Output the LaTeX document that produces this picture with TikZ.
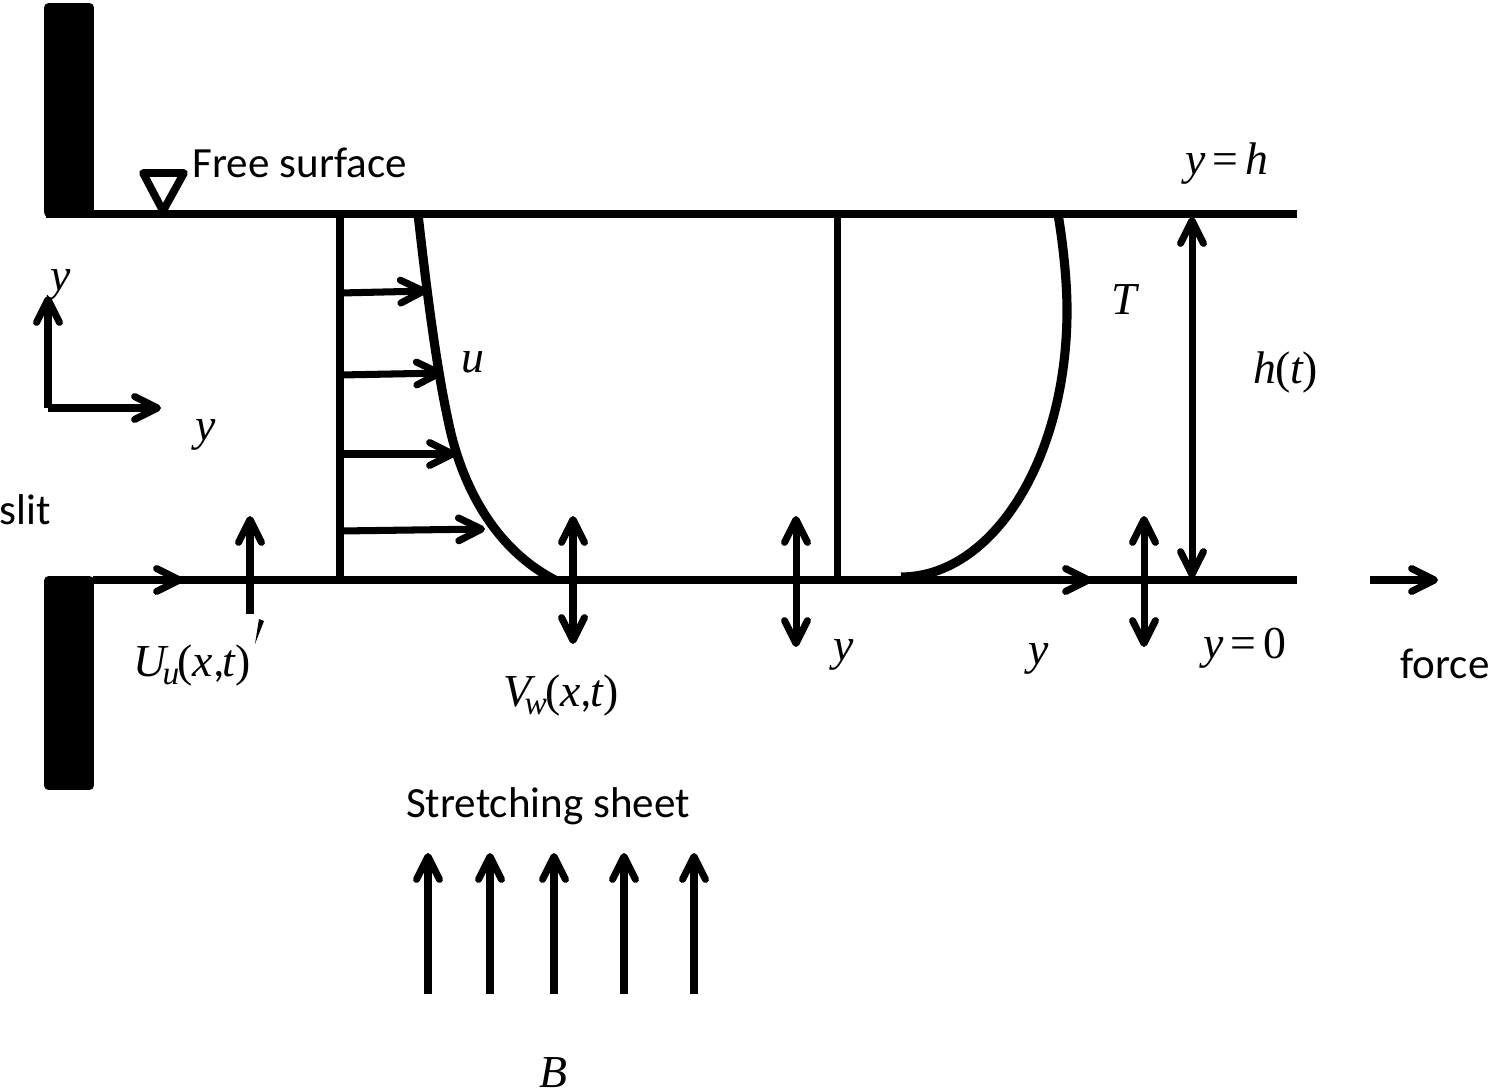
\documentclass[tikz,border=0pt]{standalone}
\usepackage{fontspec}
\setmainfont{Carlito}
\newfontfamily\mfont{Liberation Serif}
\newcommand{\mi}[1]{{\mfont\itshape #1}}
\newcommand{\mr}[1]{{\mfont #1}}
\newcommand{\sbs}[1]{\raisebox{-2.5pt}{\fontsize{9.5}{10}\selectfont\mi{#1}}}
\usetikzlibrary{arrows.meta}

\begin{document}
\begin{tikzpicture} [x=0.01cm, y=-0.01cm]
\tikzstyle{every node}=[inner sep=0pt, font=\fontsize{12.25}{15}\selectfont];
\tikzstyle{mathlbl}=[font=\fontsize{13}{15}\selectfont];
\tikzstyle{wall}=[draw, fill=black, line width=0.5pt, rounded corners=1pt, minimum width=48*0.01cm, minimum height=212*0.01cm];
\tikzstyle{heavy}=[line width=2pt];
\tikzstyle{surf}=[line width=2.3pt];
\tikzstyle{prof}=[line width=2.6pt];
\tikzstyle{vec}=[heavy, -{Straight Barb[length=6.5pt, width=6.5pt, round]}];
\tikzstyle{dvec}=[heavy, {Straight Barb[length=6.5pt, width=6.5pt, round]}-{Straight Barb[length=6.5pt, width=6.5pt, round]}];
\useasboundingbox (0,0) rectangle (1498,1091);

\node [wall] (wt) at (69,110) {};
\node [wall] (wb) at (69,683) {};

% free surface and sheet
\coordinate (st) at (46,214);
\coordinate (se) at (1297,214);
\coordinate (bs) at (93,580);
\coordinate (be) at (1297,580);
\draw [surf] (st) -- (se);
\draw [surf] (bs) -- (be);
\coordinate (t1) at (143,173);
\coordinate (t2) at (184,173);
\coordinate (t3) at (163,211);
\draw [heavy, line width=2.2pt, line join=round] (t1) -- (t2) -- (t3) -- cycle;

% axes
\coordinate (o) at (48,408);
\coordinate (oy) at (48,296);
\coordinate (ox) at (161,408);
\draw [vec] (o) -- (oy);
\draw [vec] (o) -- (ox);

% velocity profile
\coordinate (p1) at (340,214);
\coordinate (p2) at (340,580);
\draw [heavy] (p1) -- (p2);
\coordinate (a1) at (340,293);
\coordinate (b1) at (427,291);
\coordinate (a2) at (340,375);
\coordinate (b2) at (443,373);
\coordinate (a3) at (340,454);
\coordinate (b3) at (456,454);
\coordinate (a4) at (340,531);
\coordinate (b4) at (485,529);
\draw [vec] (a1) -- (b1);
\draw [vec] (a2) -- (b2);
\draw [vec] (a3) -- (b3);
\draw [vec] (a4) -- (b4);
\coordinate (c0) at (418,214);
\coordinate (c5) at (555,580);
\draw [prof] (c0) .. controls (426,285) and (436,365) .. (448,420)
  .. controls (455,455) and (478,540) .. (c5);

% temperature profile
\coordinate (q1) at (837,214);
\coordinate (q2) at (837,580);
\draw [heavy] (q1) -- (q2);
\coordinate (d0) at (1058,214);
\coordinate (d1) at (901,577);
\draw [prof] (d0) .. controls (1064,250) and (1067,285) .. (1067,310)
  .. controls (1067,460) and (992,577) .. (d1);

% double arrows
\foreach \n/\xx/\yb in {e1/573/644, e2/796/647, e3/1144/647} {
  \coordinate (\n a) at (\xx,516);
  \coordinate (\n b) at (\xx,\yb);
  \draw [dvec] (\n a) -- (\n b);
}
\coordinate (ha) at (1192,217);
\coordinate (hb) at (1192,578);
\draw [dvec] (ha) -- (hb);

% arrows along the sheet
\coordinate (f1) at (183,580);
\coordinate (f2) at (1092,580);
\coordinate (f0) at (1000,580);
\draw [vec] (bs) -- (f1);
\draw [vec] (f0) -- (f2);
\coordinate (g1) at (1370,580);
\coordinate (g2) at (1438,580);
\draw [vec] (g1) -- (g2);
\coordinate (w1) at (250,614);
\coordinate (w2) at (250,516);
\draw [vec] (w1) -- (w2);
\fill (259,619) -- (264,621) -- (255,644) -- cycle;

% magnetic field
\foreach \xx [count=\i] in {428,490,554,624,694} {
  \coordinate (m\i a) at (\xx,994);
  \coordinate (m\i b) at (\xx,853);
  \draw [vec] (m\i a) -- (m\i b);
}

\node (free) [anchor=west] at (192,163) {Free surface};
\node (slit) at (25,510) {slit};
\node (forc) at (1445,664) {force};
\node (sheet) at (548,806) {Stretching sheet};
\node [mathlbl] (yh) at (1227,164) {\mi{y}\kern2pt\mr{=}\kern2pt\mi{h}};
\node [mathlbl] (y1) at (61,285) {\mi{y}};
\node [mathlbl] (y2) at (206,435) {\mi{y}};
\node [mathlbl] (lu) at (473,362) {\mi{u}};
\node [mathlbl] (lT) at (1124,300) {\mi{T}};
\node [mathlbl] (lh) at (1286,373) {\mi{h}\kern-0.5pt\mr{(}\mi{t}\mr{)}};
\node [mathlbl] (lU) at (192,665) {\mi{U}\kern-1pt\sbs{u}\kern-0.5pt\mr{(}\mi{x},\kern-0.5pt\mi{t}\mr{)}};
\node [mathlbl] (lV) at (561,695) {\mi{V}\kern-2pt\sbs{w}\kern-0.5pt\mr{(}\mi{x},\kern-0.5pt\mi{t}\mr{)}};
\node [mathlbl] (y3) at (844,655) {\mi{y}};
\node [mathlbl] (y4) at (1039,659) {\mi{y}};
\node [mathlbl] (y0) at (1245,648) {\mi{y}\kern2pt\mr{=}\kern2pt\mr{0}};
\node [mathlbl] (lB) at (553,1073) {\mi{B}};
\end{tikzpicture}
\end{document}
